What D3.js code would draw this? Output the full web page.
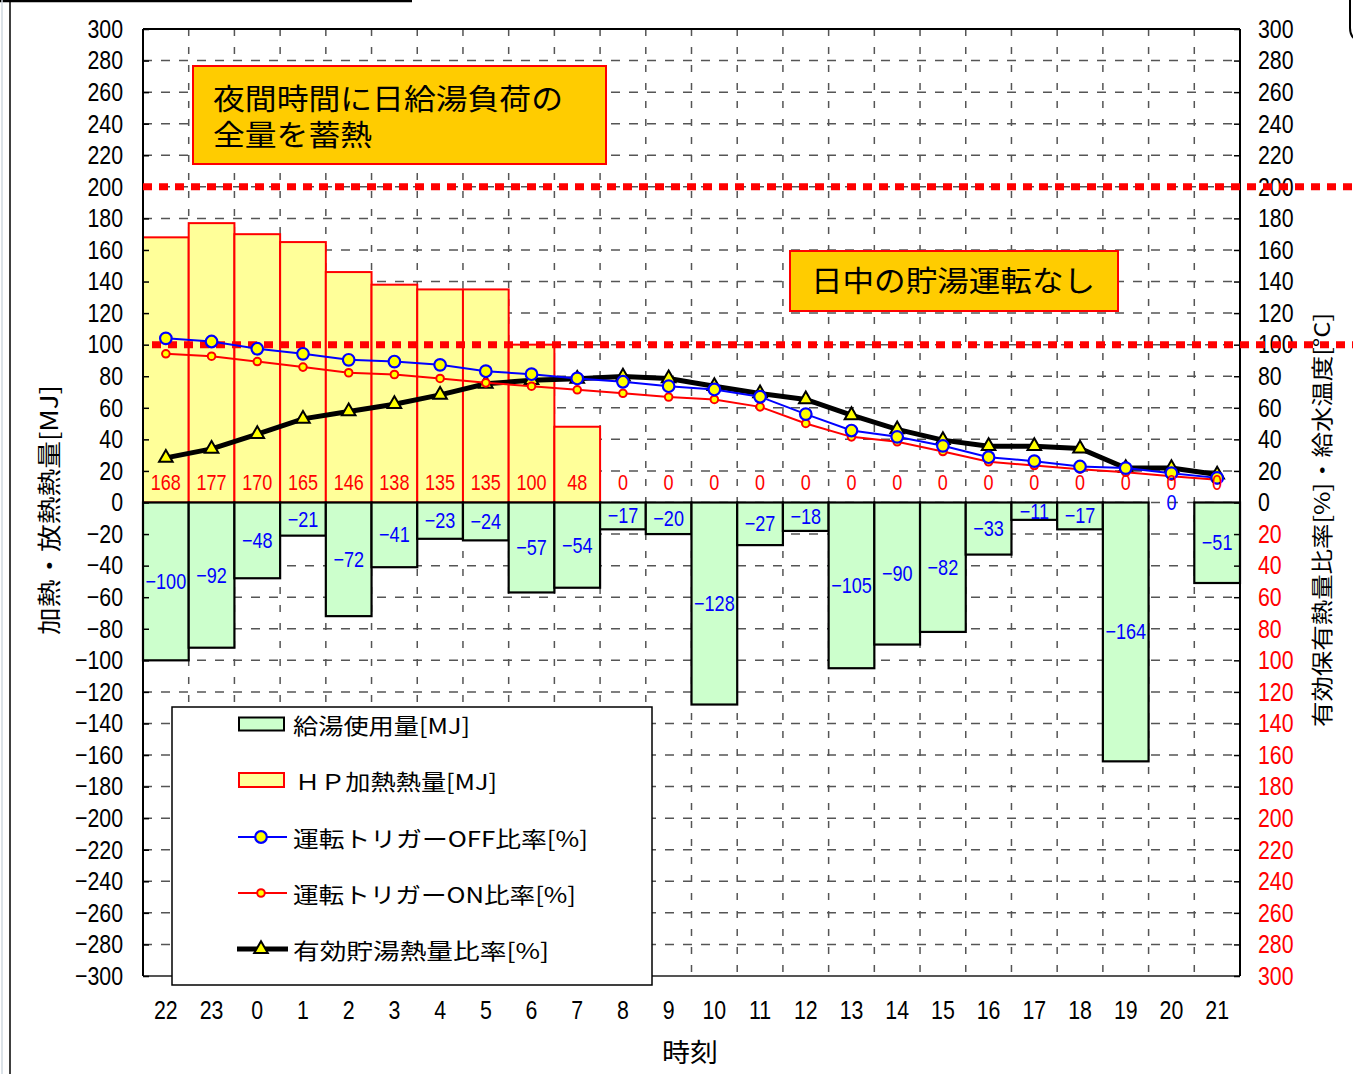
<!DOCTYPE html>
<html><head><meta charset="utf-8">
<script src="https://cdn.jsdelivr.net/npm/d3@7"></script>
<style>
html,body{margin:0;padding:0;background:#fff;}
svg{display:block;}
</style>
</head><body>
<svg id="chart" width="1353" height="1074"></svg>
<script>
// ---------------- data ----------------
const hours = ["22","23","0","1","2","3","4","5","6","7","8","9","10","11","12","13","14","15","16","17","18","19","20","21"];
const hpHeat = [168,177,170,165,146,138,135,135,100,48,0,0,0,0,0,0,0,0,0,0,0,0,0,0];
const hotWaterUse = [-100,-92,-48,-21,-72,-41,-23,-24,-57,-54,-17,-20,-128,-27,-18,-105,-90,-82,-33,-11,-17,-164,0,-51];
const triggerOff = [104,102,97.4,94.2,90.4,89.3,87.2,83.2,81.3,78.6,76.5,73.7,71.6,67,56,45.6,41.6,35.9,28.7,26.2,22.8,21.8,18.6,15.6];
const triggerOn = [94.2,92.7,89.3,85.8,82.2,81.1,78.6,75.8,73.7,71.4,69.2,66.8,65.3,60.6,50.1,41.6,38.5,32.3,25.8,23.4,21.1,19.2,16.7,14.4];
const effective = [28.3,34,43.3,53,57.7,62.3,68.2,75.2,77.5,78.4,79.8,78.6,73.7,69.1,65.3,55.3,46.3,39.5,35.7,35.7,34.2,21.8,21.8,17.7];
const yTicks = d3.range(-300, 301, 20);
const refLines = [200, 100];
const legendLabels = ["給湯使用量[MJ]","ＨＰ加熱熱量[MJ]","運転トリガーOFF比率[%]","運転トリガーON比率[%]","有効貯湯熱量比率[%]"];
const note1 = ["夜間時間に日給湯負荷の","全量を蓄熱"];
const note2 = "日中の貯湯運転なし";

// ---------------- layout ----------------
const L = 143, R = 1240, T = 29, B = 976;
const svg = d3.select("#chart");
const x = d3.scaleBand().domain(hours).range([L, R]).padding(0);
const y = d3.scaleLinear().domain([-300, 300]).range([B, T]);
const bw = x.bandwidth();
const NUM = "'Liberation Sans', Arial, sans-serif";
const JP = "'Noto Sans CJK JP', sans-serif";

function condense(sel, k) {
  sel.each(function() {
    const w = this.getComputedTextLength();
    d3.select(this).attr("textLength", w * k).attr("lengthAdjust", "spacingAndGlyphs");
  });
}
function fitWidth(sel, w) {
  sel.attr("textLength", w).attr("lengthAdjust", "spacingAndGlyphs");
}

// decorations (page frame fragments)
svg.append("line").attr("x1",0).attr("x2",412).attr("y1",1).attr("y2",1).attr("stroke","#000").attr("stroke-width",2.5);
svg.append("line").attr("x1",2).attr("x2",2).attr("y1",0).attr("y2",1074).attr("stroke","#cfd8e0").attr("stroke-width",1.5);
svg.append("line").attr("x1",10).attr("x2",10).attr("y1",0).attr("y2",1074).attr("stroke","#000").attr("stroke-width",1.5);
svg.append("path").attr("d","M1350,0 L1350,28 Q1350,38 1358,40").attr("fill","none").attr("stroke","#000").attr("stroke-width",2);

// ---------------- grid ----------------
const grid = svg.append("g");
grid.selectAll("line.h").data(yTicks.filter(v => v > -300 && v < 300)).join("line")
  .attr("x1", L).attr("x2", R).attr("y1", d => y(d)).attr("y2", d => y(d))
  .attr("stroke", "#555").attr("stroke-width", 1.5).attr("stroke-dasharray", "9,9");
grid.selectAll("line.v").data(hours.slice(1)).join("line")
  .attr("x1", d => x(d)).attr("x2", d => x(d)).attr("y1", T).attr("y2", B)
  .attr("stroke", "#555").attr("stroke-width", 1.5).attr("stroke-dasharray", "7,11");

// ---------------- bars ----------------
const bars = svg.append("g");
bars.selectAll("rect.hp").data(hours.map((h,i) => ({h, v: hpHeat[i]})).filter(d => d.v > 0)).join("rect")
  .attr("x", d => x(d.h)).attr("width", bw)
  .attr("y", d => y(d.v)).attr("height", d => y(0) - y(d.v))
  .attr("fill", "#FFFF99").attr("stroke", "#FF0000").attr("stroke-width", 2);
bars.selectAll("rect.use").data(hours.map((h,i) => ({h, v: hotWaterUse[i]})).filter(d => d.v < 0)).join("rect")
  .attr("x", d => x(d.h)).attr("width", bw)
  .attr("y", y(0)).attr("height", d => y(d.v) - y(0))
  .attr("fill", "#CCFFCC").attr("stroke", "#000").attr("stroke-width", 2.2);

// ---------------- frame ----------------
svg.append("line").attr("x1", L).attr("x2", R).attr("y1", T).attr("y2", T).attr("stroke", "#000").attr("stroke-width", 2);
svg.append("line").attr("x1", L).attr("x2", R).attr("y1", B).attr("y2", B).attr("stroke", "#555").attr("stroke-width", 2);
svg.append("line").attr("x1", L).attr("x2", L).attr("y1", T).attr("y2", B).attr("stroke", "#000").attr("stroke-width", 2);
svg.append("line").attr("x1", R).attr("x2", R).attr("y1", T).attr("y2", B).attr("stroke", "#000").attr("stroke-width", 2);

// ---------------- axes ----------------
const axL = svg.append("g").attr("transform", `translate(${L},0)`)
  .call(d3.axisLeft(y).tickValues(yTicks).tickSizeInner(-6).tickSizeOuter(0).tickPadding(20).tickFormat(d3.format("d")));
axL.select(".domain").remove();
axL.selectAll(".tick line").attr("stroke", "#000").attr("stroke-width", 1.5);
axL.selectAll("text").attr("font-family", NUM).attr("font-size", 26).attr("fill", "#000").call(condense, 0.82);

const axR = svg.append("g").attr("transform", `translate(${R},0)`)
  .call(d3.axisRight(y).tickValues(yTicks).tickSizeInner(-6).tickSizeOuter(0).tickPadding(18).tickFormat(d => String(Math.abs(d))));
axR.select(".domain").remove();
axR.selectAll(".tick line").attr("stroke", "#000").attr("stroke-width", 1.5);
axR.selectAll("text").attr("font-family", NUM).attr("font-size", 26)
  .attr("fill", d => d < 0 ? "#FF0000" : "#000").call(condense, 0.82);

const axB = svg.append("g").attr("transform", `translate(0,${B})`)
  .call(d3.axisBottom(x).tickSize(0).tickPadding(24.5));
axB.select(".domain").remove();
axB.selectAll("text").attr("font-family", NUM).attr("font-size", 26).attr("fill", "#000").call(condense, 0.82);

// axis titles
svg.append("text").attr("transform", "translate(47,510) rotate(-90)")
  .attr("text-anchor", "middle").attr("dominant-baseline", "central")
  .attr("font-family", JP).attr("font-size", 24).attr("fill", "#000")
  .text("加熱・放熱熱量[MJ]").call(fitWidth, 250);
svg.append("text").attr("transform", "translate(1320,520) rotate(-90)")
  .attr("text-anchor", "middle").attr("dominant-baseline", "central")
  .attr("font-family", JP).attr("font-size", 22).attr("fill", "#000")
  .text("有効保有熱量比率[%]・給水温度[°C]").call(fitWidth, 414);
svg.append("text").attr("x", 690).attr("y", 1050)
  .attr("text-anchor", "middle").attr("dominant-baseline", "central")
  .attr("font-family", JP).attr("font-size", 26).attr("fill", "#000")
  .text("時刻").call(fitWidth, 56);

// ---------------- reference dotted lines ----------------
svg.append("g").selectAll("line").data(refLines).join("line")
  .attr("x1", (d,i) => i === 0 ? L : L + 9).attr("x2", 1360)
  .attr("y1", d => y(d)).attr("y2", d => y(d))
  .attr("stroke", "#FF0000").attr("stroke-width", 7).attr("stroke-dasharray", "9,7");

// ---------------- lines ----------------
const cx = h => x(h) + bw / 2;
const lineGen = arr => d3.line().x((d,i) => cx(hours[i])).y(d => y(d))(arr);

svg.append("path").attr("d", lineGen(effective)).attr("fill", "none").attr("stroke", "#000").attr("stroke-width", 5);
svg.append("g").selectAll("path").data(effective).join("path")
  .attr("transform", (d,i) => `translate(${cx(hours[i])},${y(d)})`)
  .attr("d", d3.symbol(d3.symbolTriangle, 80)())
  .attr("fill", "#FFFF00").attr("stroke", "#000").attr("stroke-width", 2);

svg.append("path").attr("d", lineGen(triggerOn)).attr("fill", "none").attr("stroke", "#FF0000").attr("stroke-width", 2);
svg.append("g").selectAll("circle").data(triggerOn).join("circle")
  .attr("cx", (d,i) => cx(hours[i])).attr("cy", d => y(d)).attr("r", 3.8)
  .attr("fill", "#FFFF00").attr("stroke", "#FF0000").attr("stroke-width", 2);

svg.append("path").attr("d", lineGen(triggerOff)).attr("fill", "none").attr("stroke", "#0000FF").attr("stroke-width", 2);
svg.append("g").selectAll("circle").data(triggerOff).join("circle")
  .attr("cx", (d,i) => cx(hours[i])).attr("cy", d => y(d)).attr("r", 5.8)
  .attr("fill", "#FFFF00").attr("stroke", "#0000FF").attr("stroke-width", 2.2);

// ---------------- data labels ----------------
svg.append("g").selectAll("text").data(hpHeat).join("text")
  .attr("x", (d,i) => cx(hours[i])).attr("y", y(0) - 20)
  .attr("text-anchor", "middle").attr("dominant-baseline", "central")
  .attr("font-family", NUM).attr("font-size", 22).attr("fill", "#FF0000")
  .text(d => d).call(condense, 0.82);
svg.append("g").selectAll("text").data(hotWaterUse).join("text")
  .attr("x", (d,i) => cx(hours[i])).attr("y", d => (y(0) + y(d)) / 2)
  .attr("text-anchor", "middle").attr("dominant-baseline", "central")
  .attr("font-family", NUM).attr("font-size", 22).attr("fill", "#0000FF")
  .text(d => d < 0 ? "−" + Math.abs(d) : String(d)).call(condense, 0.82);

// ---------------- annotation boxes ----------------
svg.append("rect").attr("x", 193).attr("y", 66).attr("width", 413).attr("height", 98)
  .attr("fill", "#FFCC00").attr("stroke", "#FF0000").attr("stroke-width", 2);
svg.append("text").attr("x", 213).attr("y", 110).attr("font-family", JP).attr("font-size", 29).attr("fill", "#000")
  .text(note1[0]).call(fitWidth, 350);
svg.append("text").attr("x", 213).attr("y", 146).attr("font-family", JP).attr("font-size", 29).attr("fill", "#000")
  .text(note1[1]).call(fitWidth, 159);
svg.append("rect").attr("x", 790).attr("y", 251).attr("width", 328).attr("height", 60)
  .attr("fill", "#FFCC00").attr("stroke", "#FF0000").attr("stroke-width", 2);
svg.append("text").attr("x", 811).attr("y", 292).attr("font-family", JP).attr("font-size", 29).attr("fill", "#000")
  .text(note2).call(fitWidth, 284);

// ---------------- legend ----------------
const lg = svg.append("g");
lg.append("rect").attr("x", 172).attr("y", 707).attr("width", 480).attr("height", 278)
  .attr("fill", "#fff").attr("stroke", "#000").attr("stroke-width", 1.5);
const rowY = [724, 780, 837, 893, 949];
const legendWidths = [177, 202, 295, 283, 256];
lg.append("rect").attr("x", 239).attr("y", rowY[0] - 6.5).attr("width", 45).attr("height", 13)
  .attr("fill", "#CCFFCC").attr("stroke", "#000").attr("stroke-width", 2);
lg.append("rect").attr("x", 239).attr("y", rowY[1] - 7).attr("width", 45).attr("height", 14)
  .attr("fill", "#FFFF99").attr("stroke", "#FF0000").attr("stroke-width", 2);
lg.append("line").attr("x1", 238).attr("x2", 287).attr("y1", rowY[2]).attr("y2", rowY[2]).attr("stroke", "#0000FF").attr("stroke-width", 2);
lg.append("circle").attr("cx", 261).attr("cy", rowY[2]).attr("r", 5.8).attr("fill", "#FFFF00").attr("stroke", "#0000FF").attr("stroke-width", 2.2);
lg.append("line").attr("x1", 238).attr("x2", 287).attr("y1", rowY[3]).attr("y2", rowY[3]).attr("stroke", "#FF0000").attr("stroke-width", 2);
lg.append("circle").attr("cx", 261).attr("cy", rowY[3]).attr("r", 3.8).attr("fill", "#FFFF00").attr("stroke", "#FF0000").attr("stroke-width", 2);
lg.append("line").attr("x1", 237).attr("x2", 288).attr("y1", rowY[4]).attr("y2", rowY[4]).attr("stroke", "#000").attr("stroke-width", 5);
lg.append("path").attr("transform", `translate(261,${rowY[4]})`).attr("d", d3.symbol(d3.symbolTriangle, 80)())
  .attr("fill", "#FFFF00").attr("stroke", "#000").attr("stroke-width", 2);
lg.selectAll("text").data(legendLabels).join("text")
  .attr("x", (d,i) => i === 1 ? 295 : 293).attr("y", (d,i) => rowY[i])
  .attr("dominant-baseline", "central")
  .attr("font-family", JP).attr("font-size", 22).attr("fill", "#000")
  .text(d => d)
  .each(function(d,i){ d3.select(this).call(fitWidth, legendWidths[i]); });
</script>
</body></html>
